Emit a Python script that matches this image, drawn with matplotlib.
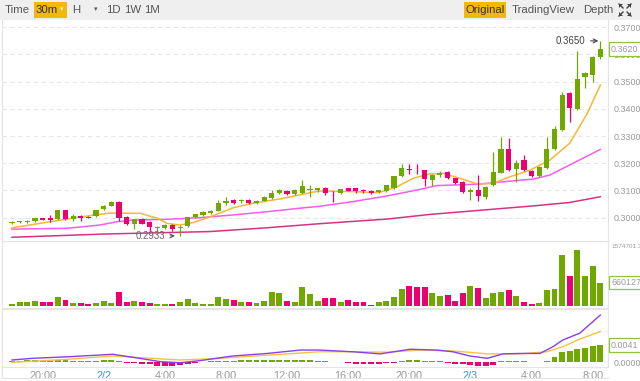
import numpy as np
import matplotlib
matplotlib.use("Agg")
import matplotlib.pyplot as plt
from matplotlib.patches import Rectangle, Polygon
from matplotlib.lines import Line2D
import matplotlib.transforms as mtransforms

# candles, 30m, 2/1 18:00 -> 2/3 08:30
opens = [0.2980, 0.2983, 0.2985, 0.2986, 0.2998, 0.2998, 0.2994, 0.3028, 0.2994, 0.3007,
         0.3004, 0.3006, 0.3031, 0.3044, 0.3059, 0.3004, 0.2976, 0.2996, 0.2985, 0.2963,
         0.2963, 0.2973, 0.2961, 0.2969, 0.3001, 0.3010, 0.3016, 0.3025, 0.3053, 0.3065,
         0.3060, 0.3065, 0.3053, 0.3063, 0.3071, 0.3090, 0.3098, 0.3087, 0.3090, 0.3100,
         0.3100, 0.3108, 0.3096, 0.3090, 0.3108, 0.3108, 0.3100, 0.3098, 0.3093, 0.3098,
         0.3108, 0.3153, 0.3178, 0.3177, 0.3175, 0.3140, 0.3157, 0.3169, 0.3145, 0.3132,
         0.3096, 0.3102, 0.3077, 0.3120, 0.3166, 0.3253, 0.3178, 0.3211, 0.3173, 0.3153,
         0.3181, 0.3251, 0.3322, 0.3460, 0.3399, 0.3516, 0.3525, 0.3590]
highs = [0.2986, 0.2988, 0.2990, 0.2999, 0.2999, 0.3010, 0.3030, 0.3030, 0.3013, 0.3010,
         0.3006, 0.3030, 0.3045, 0.3061, 0.3061, 0.3006, 0.2996, 0.2998, 0.2987, 0.2971,
         0.2975, 0.2975, 0.2974, 0.3003, 0.3014, 0.3024, 0.3027, 0.3065, 0.3075, 0.3067,
         0.3070, 0.3067, 0.3065, 0.3079, 0.3102, 0.3104, 0.3100, 0.3104, 0.3138, 0.3119,
         0.3110, 0.3112, 0.3098, 0.3107, 0.3110, 0.3110, 0.3106, 0.3100, 0.3102, 0.3122,
         0.3155, 0.3197, 0.3197, 0.3197, 0.3177, 0.3159, 0.3172, 0.3171, 0.3147, 0.3134,
         0.3110, 0.3157, 0.3116, 0.3243, 0.3296, 0.3293, 0.3212, 0.3230, 0.3175, 0.3189,
         0.3298, 0.3337, 0.3463, 0.3462, 0.3614, 0.3535, 0.3594, 0.3650]
lows = [0.2976, 0.2980, 0.2979, 0.2985, 0.2990, 0.2985, 0.2992, 0.2992, 0.2988, 0.2988,
        0.2998, 0.3004, 0.3029, 0.3042, 0.2989, 0.2972, 0.2957, 0.2975, 0.2949, 0.2945,
        0.2960, 0.2950, 0.2933, 0.2967, 0.2999, 0.3008, 0.3014, 0.3023, 0.3047, 0.3051,
        0.3055, 0.3051, 0.3051, 0.3061, 0.3069, 0.3088, 0.3084, 0.3085, 0.3088, 0.3077,
        0.3096, 0.3085, 0.3059, 0.3088, 0.3097, 0.3091, 0.3090, 0.3088, 0.3090, 0.3096,
        0.3106, 0.3148, 0.3161, 0.3161, 0.3118, 0.3115, 0.3150, 0.3143, 0.3125, 0.3090,
        0.3065, 0.3063, 0.3070, 0.3117, 0.3164, 0.3173, 0.3132, 0.3173, 0.3150, 0.3151,
        0.3179, 0.3249, 0.3320, 0.3353, 0.3397, 0.3476, 0.3500, 0.3585]
closes = [0.2984, 0.2986, 0.2989, 0.2998, 0.2992, 0.2992, 0.3028, 0.2994, 0.3006, 0.3000,
          0.3000, 0.3028, 0.3043, 0.3059, 0.2998, 0.2976, 0.2994, 0.2977, 0.2967, 0.2966,
          0.2973, 0.2958, 0.2967, 0.3001, 0.3012, 0.3022, 0.3025, 0.3053, 0.3063, 0.3053,
          0.3065, 0.3053, 0.3063, 0.3077, 0.3092, 0.3102, 0.3086, 0.3102, 0.3117, 0.3104,
          0.3108, 0.3090, 0.3093, 0.3105, 0.3099, 0.3097, 0.3097, 0.3092, 0.3100, 0.3120,
          0.3153, 0.3182, 0.3174, 0.3174, 0.3141, 0.3157, 0.3166, 0.3145, 0.3129, 0.3096,
          0.3101, 0.3080, 0.3114, 0.3167, 0.3253, 0.3175, 0.3200, 0.3175, 0.3153, 0.3187,
          0.3253, 0.3325, 0.3451, 0.3402, 0.3509, 0.3531, 0.3592, 0.3620]
volumes = [56000, 103000, 103000, 150000, 122000, 103000, 262000, 169000, 94000, 94000,
           47000, 94000, 131000, 94000, 384000, 103000, 131000, 103000, 84000, 66000,
           66000, 66000, 103000, 187000, 84000, 56000, 66000, 262000, 197000, 169000,
           122000, 103000, 84000, 150000, 384000, 356000, 150000, 122000, 544000, 337000,
           150000, 216000, 216000, 122000, 169000, 103000, 103000, 28000, 103000, 150000,
           244000, 469000, 562000, 525000, 525000, 356000, 291000, 309000, 141000, 356000,
           562000, 497000, 216000, 375000, 403000, 450000, 291000, 122000, 47000, 94000,
           450000, 469000, 1434000, 844000, 1574701.3, 844000, 1125000, 660127]
macd_hist = [0.00039, 0.00039, 0.00047, 0.00047, 0.00039, 0.00039, 0.00063, 0.00047, 0.00039, 0.00024,
             0.00024, 0.00032, 0.00047, 0.00055, 0.00024, -0.00024, -0.00024, -0.00032, -0.00047, -0.00079,
             -0.00095, -0.00095, -0.00063, -0.00039, -0.00024, 0.00016, 0.00024, 0.00032, 0.00039, 0.00039,
             0.00047, 0.00047, 0.00047, 0.00047, 0.00055, 0.00055, 0.00047, 0.00047, 0.00055, 0.00047,
             0.00032, 0.00024, 0.00016, 0.00008, -0.00024, -0.00032, -0.00039, -0.00047, -0.00039, -0.00024,
             -0.00008, 0.00032, 0.00047, 0.00047, 0.00039, 0.00032, 0.00024, -0.00016, -0.00032, -0.00047,
             -0.00071, -0.00095, -0.00095, -0.00063, 0.00024, 0.00024, 0.00039, 0.00024, 0.00016, 0.00016,
             0.00039, 0.00119, 0.00237, 0.00261, 0.00316, 0.00332, 0.00379, 0.0041]

# moving averages (candle index, value)
ma7_idx = [0, 5, 8.5, 12.8, 16.8, 19, 20.3, 22, 23.7, 26, 29, 31.5, 35.5, 39, 40.3,
           44.6, 48, 50.4, 52.5, 54.7, 56.4, 58.6, 60.9, 63, 65.2, 67.8, 70.4, 73, 75.3, 77]
ma7_val = [0.2963, 0.2985, 0.3001, 0.3017, 0.3016, 0.2998, 0.2979, 0.2973, 0.2982, 0.3004,
           0.3037, 0.3053, 0.3071, 0.3092, 0.3098, 0.3096, 0.3092, 0.3114, 0.3145, 0.3161,
           0.3163, 0.3145, 0.3124, 0.3126, 0.3151, 0.3175, 0.3212, 0.3274, 0.3384, 0.3488]
ma25_idx = [0, 7.2, 11.5, 13.7, 15.8, 20.3, 24.6, 28.9, 33.4, 37.7, 40.3, 44.6, 49.1,
            53.4, 55.6, 60.9, 64.3, 68.2, 70.4, 73, 77]
ma25_val = [0.2958, 0.2961, 0.2973, 0.2985, 0.2991, 0.2994, 0.3000, 0.3010, 0.3022, 0.3035,
            0.3042, 0.3059, 0.3080, 0.3104, 0.3118, 0.3123, 0.3132, 0.3142, 0.3157, 0.3194, 0.3251]
ma99_idx = [0, 12.2, 25.9, 33.4, 40.3, 49.1, 54.7, 68.5, 73, 77]
ma99_val = [0.2928, 0.2940, 0.2949, 0.2963, 0.2978, 0.2995, 0.3012, 0.3044, 0.3056, 0.3077]
dif_idx = [0, 2.7, 7.2, 13.2, 15.8, 19.4, 22, 24.6, 28.9, 33.4, 37.7, 40.3, 44.6, 48.2,
           52.1, 55.6, 57.7, 59.9, 62.2, 64.3, 66.5, 69.1, 70.8, 72.1, 74.3, 77]
dif_val = [0.00055, 0.00095, 0.0013, 0.0019, 0.0012, 0.00016, -0.0001, 0.0004, 0.0015, 0.0021,
           0.0029, 0.0029, 0.0025, 0.0020, 0.0031, 0.0029, 0.0025, 0.0015, 0.00095, 0.0020,
           0.0021, 0.0021, 0.0037, 0.0053, 0.0069, 0.0112]
dea_idx = [0, 7.2, 13.2, 16.8, 22, 26.8, 33.4, 40.3, 44.6, 49.1, 53.4, 57.7, 62.2, 66.5,
           70, 72.1, 74.3, 77]
dea_val = [0.0, 0.0007, 0.0015, 0.0011, 0.00055, 0.0009, 0.0017, 0.0025, 0.0025, 0.0024,
           0.0029, 0.0027, 0.0020, 0.0020, 0.0025, 0.0037, 0.0055, 0.0073]

tick_idx = [4, 12, 20, 28, 36, 44, 52, 60, 68, 76]
tick_labels = ["20:00", "2/2", "4:00", "8:00", "12:00", "16:00", "20:00", "2/3", "4:00", "8:00"]
price_ticks = [0.3000, 0.3100, 0.3200, 0.3300, 0.3400, 0.3500, 0.3600, 0.3700]

GREEN = "#70a800"
RED = "#ea0070"
GRAY = "#9a9a9a"
BORDER = "#e4e4e4"
FONT = ["Liberation Sans", "DejaVu Sans"]
plt.rcParams["font.family"] = FONT

W, H = 640, 381
fig = plt.figure(figsize=(6.4, 3.81), dpi=100)


def fx(x):
    return x / W


def fy(y):
    return 1 - y / H


# toolbar
fig.add_artist(Rectangle((0, fy(20)), 1, 20 / H, transform=fig.transFigure,
                         facecolor="#efefef", edgecolor="none"))
for x0, x1 in [(34, 67), (464, 506)]:
    fig.add_artist(Rectangle((fx(x0), fy(18)), (x1 - x0) / W, 16 / H,
                             transform=fig.transFigure, facecolor="#f0b90b", edgecolor="none"))
for label, x in [("Time", 17), ("30m", 47), ("H", 76), ("1D", 113),
                 ("1W", 133), ("1M", 152), ("Original", 485), ("TradingView", 543), ("Depth", 598)]:
    fig.text(fx(x), fy(10), label, ha="center", va="center", fontsize=8.2,
             color="#333333" if label in ("30m", "Original") else "#555555")
fig.text(fx(62), fy(10), "▾", ha="center", va="center", fontsize=5, color="#fff4c8")
fig.text(fx(96), fy(10), "▾", ha="center", va="center", fontsize=5, color="#555555")
# expand icon
cx, cy = 625, 10
for sx, sy in [(-1, -1), (1, -1), (-1, 1), (1, 1)]:
    tip = (cx + sx * 6, cy + sy * 6)
    tri = [(fx(tip[0]), fy(tip[1])), (fx(tip[0] - sx * 4), fy(tip[1])), (fx(tip[0]), fy(tip[1] - sy * 4))]
    fig.add_artist(Polygon(tri, closed=True, transform=fig.transFigure, facecolor="#444444", edgecolor="none"))
    fig.add_artist(Line2D([fx(tip[0]), fx(cx + sx * 2)], [fy(tip[1]), fy(cy + sy * 2)],
                          transform=fig.transFigure, color="#444444", lw=1))

left, right = 2, 608
ax = fig.add_axes([fx(left), fy(241), (right - left) / W, 221 / H])
axv = fig.add_axes([fx(left), fy(308), (right - left) / W, 67 / H], sharex=ax)
axm = fig.add_axes([fx(left), fy(367), (right - left) / W, 58 / H], sharex=ax)

n = len(closes)
idx = np.arange(n)
up = np.array(closes) >= np.array(opens)
colors = [GREEN if u else RED for u in up]

# candles
for i in range(n):
    ax.vlines(i, lows[i], highs[i], color=colors[i], lw=0.9, zorder=3)
    lo = min(opens[i], closes[i])
    h = max(abs(closes[i] - opens[i]), 0.00012)
    ax.bar(i, h, bottom=lo, width=0.68, color=colors[i], zorder=4)

ax.plot(ma99_idx, ma99_val, color="#d63384", lw=1.1, zorder=2)
ax.plot(ma25_idx, ma25_val, color="#f55cf0", lw=1.1, zorder=2)
ax.plot(ma7_idx, ma7_val, color="#f7b733", lw=1.1, zorder=2)

ax.set_xlim(-1.31, 78.0)
ax.set_ylim(0.29143, 0.37268)
ax.set_yticks(price_ticks)
ax.set_yticklabels(["%.4f" % p for p in price_ticks])
ax.yaxis.tick_right()
ax.tick_params(axis="y", length=0, pad=4, labelsize=6.4, labelcolor=GRAY)
ax.tick_params(axis="x", bottom=False, labelbottom=False)
ax.grid(axis="y", color="#e6e6e6", linestyle=(0, (4, 3)), lw=0.8)

# min / max markers
lo_i = int(np.argmin(lows))
hi_i = int(np.argmax(highs))
ax.annotate("%.4f" % lows[lo_i], xy=(lo_i - 0.3, lows[lo_i]), xytext=(lo_i - 2.0, lows[lo_i]),
            ha="right", va="center", fontsize=7, color="#666666",
            arrowprops=dict(arrowstyle="->", color="#555555", lw=0.8))
ax.annotate("%.4f" % highs[hi_i], xy=(hi_i + 0.1, highs[hi_i]), xytext=(hi_i - 2.0, highs[hi_i]),
            ha="right", va="center", fontsize=7, color="#444444",
            arrowprops=dict(arrowstyle="->", color="#444444", lw=0.8))

trans = mtransforms.blended_transform_factory(fig.transFigure, ax.transData)
ax.text(fx(611), closes[-1], "%.4f" % closes[-1], transform=trans, ha="left", va="center",
        fontsize=6.4, color=GRAY, zorder=10, clip_on=False,
        bbox=dict(boxstyle="square,pad=0.25", fc="white", ec="#8cc63f", lw=0.9))

# volume
axv.bar(idx, volumes, width=0.78, color=colors)
axv.set_ylim(-56000, 1828000)
axv.set_yticks([])
axv.tick_params(axis="x", bottom=False, labelbottom=False)
fig.text(fx(611), fy(247), "1574701.3", fontsize=4.6, color=GRAY, va="center", ha="left")
transv = mtransforms.blended_transform_factory(fig.transFigure, axv.transData)
axv.text(fx(611), volumes[-1], "%d" % volumes[-1], transform=transv, ha="left", va="center",
         fontsize=6.4, color=GRAY, clip_on=False,
         bbox=dict(boxstyle="square,pad=0.25", fc="white", ec="#8cc63f", lw=0.9))

# macd
hist_colors = [GREEN if v >= 0 else RED for v in macd_hist]
axm.bar(idx, macd_hist, width=0.78, color=hist_colors)
axm.plot(dea_idx, dea_val, color="#f7c242", lw=1.0)
axm.plot(dif_idx, dif_val, color="#8a3ef0", lw=1.0)
axm.set_ylim(-0.00111, 0.01263)
axm.set_yticks([0.0])
axm.set_yticklabels(["0.0000"])
axm.yaxis.tick_right()
axm.tick_params(axis="y", length=0, pad=4, labelsize=6.4, labelcolor=GRAY)
transm = mtransforms.blended_transform_factory(fig.transFigure, axm.transData)
axm.text(fx(611), macd_hist[-1], "%.4f" % macd_hist[-1], transform=transm, ha="left", va="center",
         fontsize=6.4, color=GRAY, clip_on=False,
         bbox=dict(boxstyle="square,pad=0.25", fc="white", ec="#8cc63f", lw=0.9))
axm.set_xticks(tick_idx)
axm.set_xticklabels(tick_labels)
axm.tick_params(axis="x", length=0, pad=3, labelsize=7.8, labelcolor=GRAY)
for t in axm.get_xticklabels():
    if "/" in t.get_text():
        t.set_color("#3d8fdc")

for a in (ax, axv, axm):
    for s in a.spines.values():
        s.set_color(BORDER)
        s.set_linewidth(0.8)
ax.spines["top"].set_visible(False)
fig.add_artist(Line2D([fx(left), fx(right)], [fy(378), fy(378)], transform=fig.transFigure,
                      color=BORDER, lw=0.8))
fig.add_artist(Line2D([fx(left), fx(left)], [fy(367), fy(378)], transform=fig.transFigure,
                      color=BORDER, lw=0.8))

fig.savefig("out.png", dpi=100)
